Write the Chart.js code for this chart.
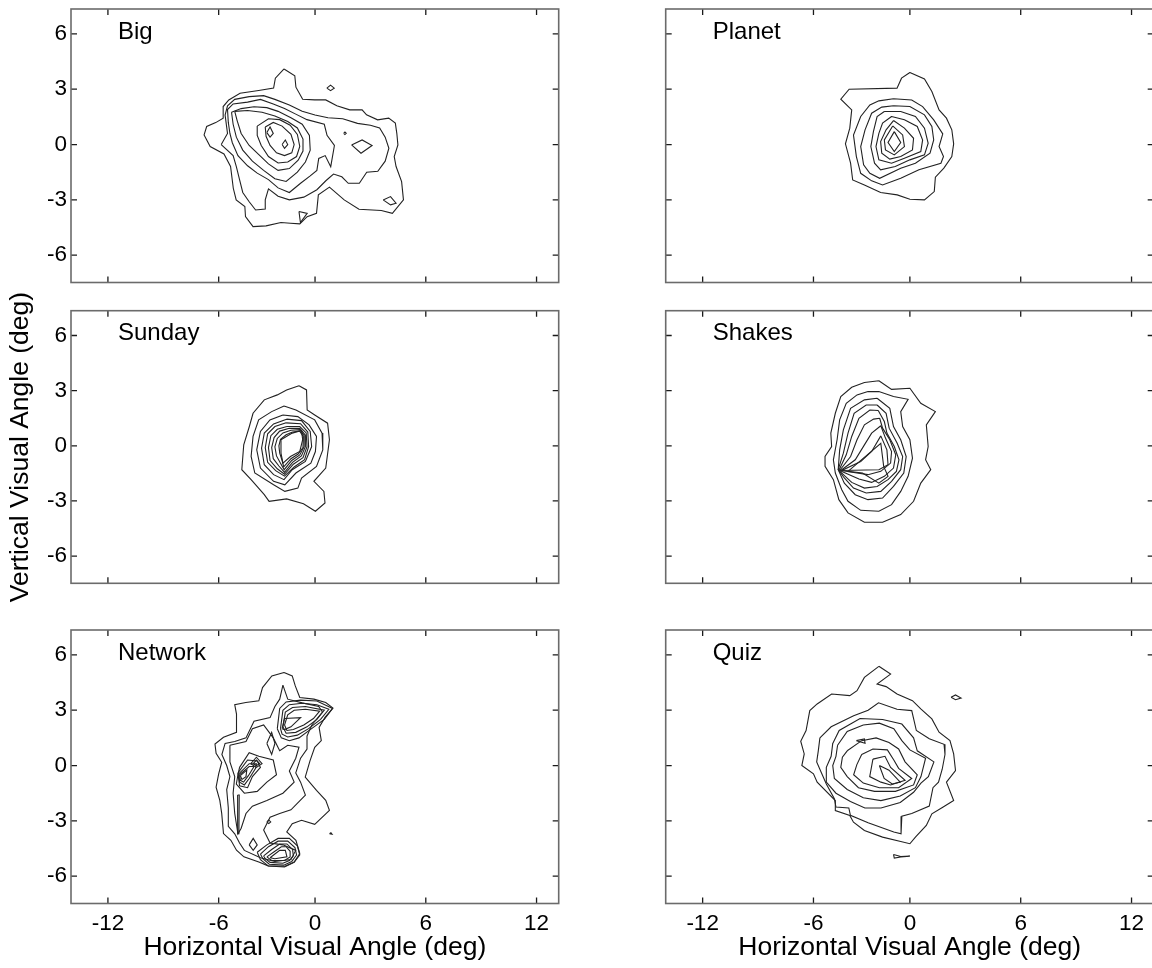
<!DOCTYPE html>
<html>
<head>
<meta charset="utf-8">
<script src="https://cdn.jsdelivr.net/npm/chart.js@4.4.1/dist/chart.umd.min.js"></script>
<style>
  html, body { margin: 0; padding: 0; background: #fff; }
  #fig { position: relative; width: 1152px; height: 968px; overflow: hidden; background: #fff; }
  #fig canvas { position: absolute; }
</style>
</head>
<body>
<div id="fig"></div>
<script>
// ---- axis values ----
const xTickValues = [-12, -6, 0, 6, 12];
const yTickValues = [-6, -3, 0, 3, 6];
const panelNames = ['Big', 'Planet', 'Sunday', 'Shakes', 'Network', 'Quiz'];
const xAxisTitle = 'Horizontal Visual Angle (deg)';
const yAxisTitle = 'Vertical Visual Angle (deg)';

// ---- contour loops, one array of [x, y] vertices per iso-line (deg) ----
const bigLoops = [
  [[-1.93,4.10],[-1.26,3.73],[-1.19,3.11],[-0.77,2.46],[-0.02,2.42],[0.58,2.42],[1.18,2.10],[1.88,1.88],[2.55,1.88],[2.79,1.61],[3.39,1.34],[3.99,1.43],[4.35,1.16],[4.43,0.61],[4.49,-0.02],[4.29,-0.65],[4.39,-1.19],[4.69,-2.01],[4.79,-3.0],[4.19,-3.73],[3.59,-3.58],[2.38,-3.51],[1.58,-3.0],[0.78,-2.31],[0.18,-2.73],[0.08,-3.73],[-0.49,-3.91],[-0.95,-4.30],[-1.53,-4.27],[-2.12,-4.23],[-3.05,-4.41],[-3.86,-4.45],[-4.33,-3.91],[-4.37,-3.36],[-4.91,-3.0],[-5.09,-2.37],[-5.26,-1.19],[-5.67,-0.51],[-6.46,-0.11],[-6.79,0.52],[-6.65,0.98],[-6.16,1.19],[-5.72,1.43],[-5.72,2.06],[-5.37,2.42],[-4.67,2.78],[-3.51,2.93],[-2.58,3.06],[-2.47,3.60]],
  [[-5.84,0.0],[-5.45,0.6],[-5.6,1.6],[-5.45,2.1],[-5.0,2.45],[-4.1,2.6],[-3.2,2.65],[-2.5,2.45],[-1.6,2.15],[-0.8,1.8],[0.0,1.6],[0.7,1.45],[1.5,1.4],[2.3,1.15],[3.0,1.05],[3.5,0.9],[3.8,0.4],[4.0,-0.2],[3.8,-0.9],[3.4,-1.45],[2.8,-1.5],[2.4,-2.1],[1.8,-2.1],[1.45,-1.75],[1.0,-1.6],[0.6,-1.95],[0.1,-2.45],[-0.7,-2.85],[-1.6,-3.0],[-2.3,-2.8],[-2.9,-2.4],[-3.1,-3.0],[-3.1,-3.5],[-3.7,-3.55],[-4.1,-3.1],[-4.5,-2.6],[-4.7,-1.9],[-4.9,-1.2],[-5.1,-0.6]],
  [[-5.4,1.2],[-5.45,1.9],[-5.1,2.2],[-4.2,2.3],[-3.4,2.45],[-2.6,2.2],[-1.9,1.95],[-1.2,1.65],[-0.5,1.35],[0.5,1.1],[0.65,0.5],[1.05,-0.05],[0.85,-1.2],[0.55,-0.6],[0.2,-0.75],[0.1,-1.4],[-0.3,-1.7],[-0.9,-2.1],[-1.6,-2.6],[-2.3,-2.35],[-2.9,-1.9],[-3.6,-1.55],[-4.2,-1.15],[-4.8,-0.6],[-5.15,0.1],[-5.3,0.6]],
  [[-5.2,1.75],[-4.6,1.95],[-3.8,2.05],[-3.0,2.0],[-2.3,1.8],[-1.5,1.45],[-0.8,1.1],[-0.35,0.5],[-0.3,-0.3],[-0.6,-0.95],[-1.1,-1.5],[-1.8,-2.0],[-2.5,-1.85],[-3.2,-1.4],[-3.9,-0.9],[-4.5,-0.3],[-4.9,0.4],[-5.1,1.1]],
  [[-5.0,1.8],[-4.2,1.85],[-3.3,1.75],[-2.5,1.55],[-1.7,1.25],[-1.1,0.9],[-0.75,0.3],[-0.75,-0.35],[-1.05,-0.85],[-1.6,-1.3],[-2.3,-1.4],[-2.9,-1.05],[-3.5,-0.55],[-4.1,-0.05],[-4.6,0.6],[-4.85,1.3]],
  [[-3.6,1.0],[-2.9,1.4],[-2.2,1.35],[-1.55,1.05],[-1.1,0.55],[-0.95,-0.1],[-1.15,-0.65],[-1.7,-0.95],[-2.3,-1.0],[-2.9,-0.65],[-3.35,-0.05],[-3.6,0.5]],
  [[-3.1,0.95],[-2.6,1.2],[-2.05,1.0],[-1.5,0.55],[-1.3,0.0],[-1.45,-0.45],[-1.9,-0.6],[-2.4,-0.45],[-2.8,-0.05],[-3.05,0.45]],
  [[-3.0,0.65],[-2.8,0.95],[-2.6,0.6],[-2.8,0.4]],
  [[-2.05,0.0],[-1.85,0.25],[-1.7,0.0],[-1.9,-0.2]],
  [[0.64,3.06],[0.84,3.22],[1.04,3.06],[0.84,2.92]],
  [[1.98,-0.02],[2.55,0.25],[3.09,-0.05],[2.49,-0.47]],
  [[1.55,0.61],[1.62,0.68],[1.69,0.61],[1.62,0.54]],
  [[3.69,-3.0],[4.09,-2.82],[4.39,-3.18],[4.09,-3.27]],
  [[-1.0,-3.63],[-0.49,-3.73],[-0.91,-4.23]]
];

const planetLoops = [
  [[0,3.91],[0.79,3.56],[1.19,2.88],[1.58,1.88],[1.98,1.43],[2.27,0.80],[2.37,0.04],[2.27,-0.65],[1.84,-1.28],[1.38,-1.77],[1.32,-2.55],[0.79,-3.0],[0,-2.97],[-0.79,-2.73],[-1.82,-2.60],[-2.83,-2.19],[-3.56,-1.92],[-3.69,-1.01],[-4.01,0.04],[-3.74,0.89],[-3.62,1.88],[-4.30,2.46],[-3.78,3.0],[-0.80,3.06],[-0.52,3.60]],
  [[-1.02,2.48],[0.1,2.42],[0.69,2.06],[1.29,1.34],[1.78,0.58],[1.58,-0.11],[1.82,-0.65],[1.68,-1.01],[0.49,-1.37],[-0.57,-1.83],[-1.70,-2.19],[-2.38,-1.97],[-3.06,-1.56],[-3.33,-0.65],[-3.51,0.52],[-3.06,1.52],[-2.49,2.15],[-1.93,2.37]],
  [[-1.02,2.10],[0,2.06],[0.79,1.61],[1.19,0.98],[1.29,0.25],[1.09,-0.47],[0.30,-1.01],[-0.57,-1.28],[-1.88,-1.83],[-2.49,-1.56],[-2.88,-1.10],[-3.06,-0.11],[-2.79,0.80],[-2.38,1.70],[-1.75,2.03]],
  [[-1.59,1.79],[-0.57,1.79],[0.3,1.52],[0.79,0.89],[0.99,0.07],[0.79,-0.56],[0,-0.83],[-0.91,-1.19],[-1.82,-1.37],[-2.20,-1.01],[-2.43,-0.11],[-2.27,0.70],[-2.04,1.52]],
  [[-1.14,1.52],[-0.34,1.34],[0.40,0.98],[0.69,0.25],[0.59,-0.38],[-0.34,-0.74],[-1.14,-1.01],[-1.93,-0.83],[-2.11,-0.11],[-1.93,0.61],[-1.70,1.16]],
  [[-1.02,1.30],[-0.34,0.89],[0.20,0.34],[0.14,-0.29],[-0.57,-0.65],[-1.25,-0.79],[-1.75,-0.47],[-1.82,0.16],[-1.48,0.80]],
  [[-1.07,1.01],[-0.45,0.52],[-0.34,-0.11],[-0.97,-0.56],[-1.52,-0.29],[-1.59,0.25]],
  [[-0.97,0.70],[-0.57,0.11],[-0.97,-0.38],[-1.36,0.11]]
];

const sundayLoops = [
  [[-1.0,3.27],[-0.53,3.04],[-0.49,1.95],[-0.02,1.68],[0.68,1.23],[0.78,0.33],[0.58,-1.21],[-0.07,-1.93],[0.48,-2.48],[0.54,-3.11],[0.02,-3.56],[-0.72,-3.15],[-1.77,-2.89],[-2.86,-3.02],[-3.16,-2.66],[-3.98,-1.84],[-4.56,-1.30],[-4.44,0.05],[-4.09,1.05],[-3.86,1.77],[-3.16,2.50],[-2.35,2.77],[-1.77,3.04]],
  [[-1.93,2.17],[-1.19,1.95],[-0.02,1.41],[0.38,0.69],[0.42,-0.22],[0.08,-1.12],[-0.84,-1.75],[-1.07,-2.30],[-1.88,-2.48],[-2.58,-2.12],[-3.75,-1.48],[-3.98,-0.58],[-3.86,0.51],[-3.51,1.41],[-2.70,1.86]],
  [[-2.0,1.68],[-1.07,1.59],[-0.37,1.14],[0.08,0.51],[0.02,-0.31],[-0.26,-0.94],[-1.19,-1.48],[-1.88,-2.12],[-2.58,-1.93],[-3.40,-1.21],[-3.63,-0.22],[-3.40,0.78],[-2.81,1.41]],
  [[-1.77,1.45],[-0.84,1.37],[-0.30,0.78],[-0.21,-0.04],[-0.60,-0.85],[-1.42,-1.30],[-1.93,-1.84],[-2.58,-1.57],[-3.16,-1.03],[-3.33,-0.13],[-3.16,0.69],[-2.58,1.19]],
  [[-1.8,1.25],[-0.9,1.2],[-0.45,0.75],[-0.4,-0.05],[-0.65,-0.75],[-1.3,-1.15],[-1.9,-1.65],[-2.45,-1.35],[-2.95,-0.9],[-3.1,-0.1],[-2.95,0.65],[-2.5,1.05]],
  [[-1.75,1.05],[-0.95,1.05],[-0.55,0.7],[-0.5,-0.05],[-0.75,-0.65],[-1.35,-1.0],[-1.9,-1.55],[-2.35,-1.25],[-2.8,-0.8],[-2.9,-0.1],[-2.75,0.55],[-2.35,0.9]],
  [[-1.6,0.95],[-0.95,0.95],[-0.62,0.6],[-0.6,-0.05],[-0.85,-0.55],[-1.4,-0.9],[-1.9,-1.45],[-2.25,-1.1],[-2.6,-0.7],[-2.7,-0.1],[-2.55,0.45],[-2.2,0.8]],
  [[-1.5,0.85],[-0.95,0.88],[-0.68,0.55],[-0.68,-0.05],[-0.95,-0.5],[-1.45,-0.8],[-1.92,-1.3],[-2.15,-0.95],[-2.4,-0.55],[-2.5,-0.05],[-2.35,0.4],[-2.0,0.7]],
  [[-1.4,0.75],[-0.95,0.8],[-0.73,0.5],[-0.75,-0.1],[-1.05,-0.45],[-1.5,-0.7],[-1.95,-1.15],[-2.05,-0.8],[-2.2,-0.4],[-2.25,0.0],[-2.15,0.35],[-1.8,0.6]],
  [[-2.12,0.33],[-1.42,0.69],[-0.84,0.83],[-0.77,0.33],[-0.95,-0.31],[-1.53,-0.58],[-2.0,-0.94],[-2.12,-0.40]]
];

const shakesLoops = [
  [[-1.93,3.54],[-1.14,3.07],[0,3.13],[0.59,2.31],[1.38,1.86],[0.89,1.14],[0.99,-0.04],[0.85,-0.76],[1.13,-1.30],[0.59,-2.03],[0.20,-3.02],[-0.57,-3.74],[-1.70,-4.16],[-2.83,-4.16],[-3.85,-3.65],[-4.42,-2.93],[-4.76,-1.84],[-5.28,-1.12],[-5.28,-0.58],[-4.87,-0.04],[-4.92,0.69],[-4.64,1.77],[-4.30,2.68],[-3.62,3.18],[-2.83,3.44]],
  [[-2.61,2.95],[-1.93,2.95],[-1.02,2.68],[-0.11,2.53],[-0.57,1.86],[-0.45,1.05],[0,0.33],[0.14,-0.67],[-0.11,-1.66],[-0.57,-2.48],[-1.14,-3.20],[-1.93,-3.56],[-3.06,-3.51],[-3.85,-3.02],[-4.24,-2.39],[-4.64,-1.48],[-4.76,-0.76],[-4.53,0.33],[-4.37,1.41],[-3.96,2.31],[-3.29,2.77]],
  [[-2.04,2.59],[-1.25,2.04],[-1.02,1.05],[-0.57,0.33],[-0.23,-0.58],[-0.38,-1.48],[-1.02,-2.21],[-1.70,-2.84],[-2.61,-2.93],[-3.40,-2.66],[-4.08,-2.03],[-4.46,-1.30],[-4.37,-0.22],[-4.14,0.87],[-3.69,2.04],[-2.83,2.50]],
  [[-2.04,2.22],[-1.48,1.77],[-1.29,0.96],[-0.79,0.14],[-0.45,-0.58],[-0.57,-1.30],[-1.14,-1.93],[-1.81,-2.48],[-2.72,-2.57],[-3.51,-2.30],[-4.08,-1.75],[-4.46,-1.30],[-4.14,-0.40],[-3.85,0.69],[-3.47,1.77],[-2.72,2.22]],
  [[-1.97,1.92],[-1.59,1.32],[-1.43,0.69],[-0.97,-0.04],[-0.68,-0.76],[-0.84,-1.39],[-1.36,-1.84],[-2.04,-2.21],[-2.83,-2.30],[-3.62,-1.99],[-4.42,-1.34],[-3.96,-0.49],[-3.62,0.51],[-3.17,1.50],[-2.49,1.95]],
  [[-1.88,1.50],[-1.70,0.96],[-1.25,0.33],[-0.88,-0.49],[-1.02,-1.21],[-1.59,-1.66],[-2.38,-1.99],[-3.17,-1.81],[-4.37,-1.34],[-3.69,-0.58],[-3.29,0.33],[-2.83,1.14],[-2.26,1.45]],
  [[-1.81,1.09],[-1.52,0.42],[-1.14,-0.31],[-1.20,-0.94],[-1.81,-1.39],[-2.61,-1.57],[-4.30,-1.34],[-3.40,-0.76],[-2.83,0.05],[-2.38,0.69]],
  [[-1.81,0.54],[-1.43,-0.22],[-1.36,-1.03],[-1.93,-1.30],[-4.24,-1.34],[-3.06,-0.85],[-2.38,-0.31]],
  [[-3.85,-1.39],[-1.81,0.14],[-1.63,-1.12],[-1.36,-1.66],[-1.93,-2.03],[-2.95,-1.48]]
];

const networkLoops = [
  [[-1.93,5.05],[-1.42,4.86],[-1.23,4.32],[-0.95,3.69],[-0.07,3.60],[0.58,3.42],[0.97,3.12],[0.54,2.61],[0.22,2.07],[0.34,1.35],[-0.02,0.99],[-0.31,0.27],[-0.61,-0.63],[0.08,-1.35],[0.58,-1.89],[0.78,-2.43],[-0.02,-3.19],[-0.84,-2.97],[-1.42,-3.15],[-1.76,-3.60],[-1.19,-4.05],[-0.95,-4.77],[-1.30,-5.23],[-1.88,-5.46],[-2.92,-5.44],[-3.50,-5.23],[-4.43,-4.95],[-4.89,-4.59],[-5.24,-4.05],[-5.70,-3.69],[-5.81,-2.61],[-5.93,-1.89],[-6.14,-1.17],[-6.0,-0.45],[-5.81,0.18],[-6.14,0.67],[-6.20,1.17],[-5.70,1.53],[-4.89,1.80],[-4.89,2.79],[-5.0,3.30],[-4.31,3.42],[-3.50,3.51],[-3.27,4.23],[-2.69,4.86]],
  [[-2.0,4.36],[-1.7,3.6],[-0.8,3.4],[0.2,3.2],[0.4,2.9],[-0.2,2.2],[-0.5,1.6],[-0.5,0.9],[-0.9,0.4],[-1.2,-0.4],[-0.9,-0.9],[-0.6,-1.6],[-1.5,-2.4],[-2.2,-2.6],[-2.8,-2.8],[-3.2,-3.5],[-2.8,-4.2],[-2.0,-4.3],[-1.2,-4.6],[-1.5,-5.1],[-2.5,-5.2],[-3.4,-5.0],[-4.4,-4.6],[-4.7,-4.2],[-5.0,-3.7],[-5.4,-3.3],[-5.4,-2.3],[-5.5,-1.3],[-5.3,-0.6],[-5.5,0.0],[-5.8,0.6],[-5.6,1.2],[-5.0,1.3],[-4.3,1.5],[-3.8,2.4],[-2.8,2.6],[-2.5,3.2],[-2.2,3.6]],
  [[-5.3,1.1],[-4.3,1.3],[-3.9,2.0],[-3.2,2.2],[-2.6,1.5],[-2.2,0.8],[-1.7,1.1],[-1.0,1.0],[-1.2,0.4],[-1.6,-0.3],[-1.3,-0.9],[-2.0,-1.5],[-3.0,-1.9],[-3.9,-2.2],[-4.3,-2.6],[-4.6,-3.4],[-4.8,-3.7],[-5.0,-2.6],[-5.1,-1.5],[-5.0,-0.6],[-5.3,0.2]],
  [[-4.7,-0.1],[-4.1,0.7],[-3.5,0.5],[-2.6,0.3],[-2.4,-0.5],[-3.0,-0.9],[-3.6,-1.4],[-4.4,-1.5],[-4.9,-1.0],[-4.8,-0.5]],
  [[-4.8,-0.4],[-4.2,0.3],[-3.6,0.25],[-3.4,-0.1],[-3.9,-0.6],[-4.2,-1.2],[-4.7,-1.1]],
  [[-4.75,-0.45],[-4.1,0.1],[-3.65,0.1],[-3.7,-0.15],[-4.1,-0.7],[-4.4,-1.05],[-4.7,-0.9]],
  [[-4.7,-0.5],[-4.1,-0.05],[-3.8,-0.05],[-4.15,-0.55],[-4.45,-0.9],[-4.65,-0.8]],
  [[-4.65,-0.55],[-4.25,-0.25],[-4.3,-0.6],[-4.55,-0.75]],
  [[-4.0,0.1],[-3.65,0.45],[-3.3,0.1],[-3.65,-0.1]],
  [[-3.85,0.1],[-3.65,0.3],[-3.45,0.1],[-3.65,0.0]],
  [[-4.82,-1.6],[-4.72,-1.6],[-4.74,-3.7],[-4.8,-3.7]],
  [[-3.0,1.2],[-2.7,1.8],[-2.5,1.2],[-2.7,0.6]],
  [[-2.35,2.0],[-2.2,3.1],[-1.8,3.45],[-0.9,3.55],[0.1,3.5],[0.95,3.1],[0.5,2.5],[-0.3,1.95],[-1.0,1.5],[-1.6,1.35],[-2.1,1.5]],
  [[-2.15,2.0],[-2.0,3.0],[-1.6,3.3],[-0.8,3.38],[0.1,3.3],[0.75,3.05],[0.3,2.5],[-0.4,2.0],[-1.1,1.65],[-1.7,1.55],[-2.05,1.7]],
  [[-2.0,2.1],[-1.85,2.9],[-1.4,3.15],[-0.6,3.2],[0.5,3.0],[0.1,2.5],[-0.5,2.1],[-1.2,1.8],[-1.8,1.75]],
  [[-1.9,2.2],[-1.7,2.75],[-1.3,3.0],[-0.6,3.05],[0.25,2.95],[-0.1,2.55],[-0.7,2.2],[-1.35,1.95],[-1.75,1.9]],
  [[-2.05,2.0],[-1.9,2.55],[-0.9,2.6],[-1.5,2.1],[-1.9,1.95]],
  [[-3.6,-4.7],[-3.0,-4.3],[-2.3,-3.95],[-1.6,-3.95],[-1.1,-4.35],[-0.95,-4.85],[-1.3,-5.25],[-1.9,-5.5],[-2.9,-5.45],[-3.4,-5.1]],
  [[-3.4,-4.8],[-2.9,-4.4],[-2.3,-4.1],[-1.7,-4.1],[-1.25,-4.45],[-1.15,-4.85],[-1.45,-5.2],[-1.95,-5.4],[-2.85,-5.35],[-3.25,-5.05]],
  [[-3.2,-4.9],[-2.7,-4.55],[-2.2,-4.25],[-1.75,-4.25],[-1.4,-4.55],[-1.35,-4.9],[-1.6,-5.15],[-2.0,-5.3],[-2.8,-5.25],[-3.1,-5.05]],
  [[-3.0,-4.95],[-2.5,-4.65],[-2.1,-4.4],[-1.8,-4.4],[-1.55,-4.65],[-1.55,-4.95],[-1.9,-5.15],[-2.7,-5.15]],
  [[-2.8,-5.0],[-2.2,-4.6],[-1.85,-4.6],[-1.75,-4.95],[-2.5,-5.05]],
  [[-4.1,-4.3],[-3.85,-3.95],[-3.6,-4.3],[-3.85,-4.6]],
  [[-3.0,-3.06],[-2.88,-2.95],[-2.76,-3.06],[-2.88,-3.15]],
  [[0.78,-3.69],[0.86,-3.64],[0.92,-3.72]]
];

const quizLoops = [
  [[-1.93,5.38],[-1.20,4.96],[-2.04,4.42],[-1.48,4.28],[-0.80,3.88],[0.14,3.52],[0.59,3.07],[1.19,2.53],[1.58,1.81],[2.17,1.35],[2.37,0.63],[2.47,-0.27],[1.98,-0.90],[2.37,-1.90],[1.78,-2.26],[1.19,-2.62],[0.89,-3.25],[0.30,-3.88],[0,-4.24],[-0.57,-4.12],[-1.70,-3.88],[-2.83,-3.52],[-3.51,-3.07],[-3.74,-2.71],[-4.64,-2.44],[-4.64,-1.90],[-5.77,-0.90],[-6.0,-0.45],[-6.63,0],[-6.50,0.63],[-6.69,1.32],[-6.40,1.90],[-6.20,2.98],[-5.77,3.34],[-4.87,3.88],[-3.74,3.79],[-3.29,4.06],[-2.83,4.78]],
  [[-5.6,1.5],[-4.9,2.1],[-3.5,2.7],[-2.6,3.0],[-1.95,3.4],[-0.8,3.05],[0.1,2.98],[0.35,1.9],[1.05,1.45],[1.85,1.15],[1.9,0.6],[1.75,-0.2],[1.55,-0.9],[1.25,-1.2],[1.05,-2.2],[0.1,-2.6],[-0.5,-2.75],[-0.55,-3.7],[-1.0,-3.6],[-2.6,-3.1],[-3.7,-2.7],[-3.8,-2.3],[-4.6,-2.25],[-4.7,-1.8],[-5.2,-1.0],[-5.5,-0.4],[-5.8,0.2],[-5.7,0.8]],
  [[-4.8,1.2],[-4.4,1.9],[-3.1,2.55],[-1.7,2.5],[-0.5,2.25],[0.2,1.5],[0.4,0.8],[1.3,0.2],[1.0,-0.6],[0.6,-0.95],[0.2,-1.45],[-0.6,-2.0],[-1.8,-2.3],[-2.8,-2.3],[-3.7,-1.95],[-4.6,-1.5],[-5.2,-0.9],[-5.2,-0.1],[-4.9,0.5]],
  [[-4.5,1.1],[-3.9,1.85],[-2.9,2.2],[-1.9,2.3],[-1.0,2.0],[-0.5,1.35],[0.0,0.85],[0.85,0.4],[0.6,-0.6],[0.3,-1.2],[-0.6,-1.65],[-1.8,-1.9],[-2.9,-1.75],[-3.9,-1.3],[-4.7,-0.7],[-4.8,0.0],[-4.6,0.5]],
  [[-3.9,0.8],[-3.0,1.35],[-2.1,1.5],[-1.3,1.25],[-0.7,0.9],[-0.3,0.2],[0.4,-0.5],[0.2,-1.05],[-0.9,-1.4],[-2.2,-1.4],[-3.2,-1.2],[-3.9,-0.6],[-4.3,-0.1],[-4.2,0.45]],
  [[-3.0,0.6],[-2.3,0.9],[-1.4,0.85],[-1.0,0.3],[-0.7,-0.15],[0.1,-0.7],[-0.7,-1.2],[-1.9,-1.2],[-2.9,-0.95],[-3.5,-0.5],[-3.3,0.05]],
  [[-2.3,0.35],[-1.55,0.5],[-1.2,-0.1],[-0.3,-0.8],[-1.2,-1.05],[-1.8,-0.9],[-2.5,-0.6]],
  [[-1.9,0.0],[-1.3,-0.25],[-0.6,-0.9],[-1.1,-1.0],[-1.6,-0.7]],
  [[2.23,3.70],[2.47,3.83],[2.77,3.66],[2.47,3.57]],
  [[-1.02,-4.82],[-0.57,-4.93],[0,-4.91],[-0.57,-4.96],[-0.97,-5.02]],
  [[-3.33,1.35],[-2.83,1.44],[-2.79,1.21]]
];

const loopsByPanel = [bigLoops, planetLoops, sundayLoops, shakesLoops, networkLoops, quizLoops];

// ---- horizontal axis: the span between -6 and 0 is drawn narrower than the rest ----
const BEND = 0.78;
function warp(v) { if (v >= 0) return v; if (v > -6) return v * (1 - BEND / 6); return v + BEND; }
function unwarp(w) { if (w >= 0) return w; if (w > -6 + BEND) return w / (1 - BEND / 6); return w - BEND; }

class BentLinearScale extends Chart.LinearScale {
  getPixelForValue(value) {
    const a = warp(this.min), b = warp(this.max);
    return this.getPixelForDecimal((warp(value) - a) / (b - a));
  }
  getValueForPixel(pixel) {
    const a = warp(this.min), b = warp(this.max);
    return unwarp(a + this.getDecimalForPixel(pixel) * (b - a));
  }
}
BentLinearScale.id = 'bentLinear';
BentLinearScale.defaults = { ticks: { callback: Chart.Ticks.formatters.numeric } };
Chart.register(BentLinearScale);

Chart.defaults.font.family = '"Liberation Sans", Arial, Helvetica, sans-serif';
Chart.defaults.color = '#000';

// frame, inward tick marks and the panel name
const panelFrame = {
  id: 'panelFrame',
  afterDatasetsDraw(chart, args, opts) {
    const { ctx, chartArea: a, scales: { x, y } } = chart;
    ctx.save();
    ctx.strokeStyle = '#1a1a1a';
    ctx.lineWidth = 1.3;
    ctx.beginPath();
    x.ticks.forEach(t => {
      const p = x.getPixelForValue(t.value);
      ctx.moveTo(p, a.bottom); ctx.lineTo(p, a.bottom - 6);
      ctx.moveTo(p, a.top); ctx.lineTo(p, a.top + 6);
    });
    y.ticks.forEach(t => {
      const p = y.getPixelForValue(t.value);
      ctx.moveTo(a.left, p); ctx.lineTo(a.left + 6, p);
      ctx.moveTo(a.right, p); ctx.lineTo(a.right - 6, p);
    });
    ctx.stroke();
    ctx.strokeStyle = '#6b6b6b';
    ctx.lineWidth = 1.6;
    ctx.strokeRect(a.left, a.top, a.right - a.left, a.bottom - a.top);
    ctx.fillStyle = '#000';
    ctx.font = '24px "Liberation Sans", Arial, sans-serif';
    ctx.textAlign = 'left';
    ctx.textBaseline = 'alphabetic';
    ctx.fillText(opts.name, a.left + 47, a.top + 29.5);
    ctx.restore();
  }
};

const fig = document.getElementById('fig');
const cols = [
  { left: 0, width: 580, yW: 71, padRight: 21.3 },
  { left: 600, width: 560, yW: 65.7, padRight: 6.3 }
];
const rows = [
  { top: 0, height: 293, padTop: 9, xH: 10.5 },
  { top: 280, height: 330, padTop: 30.7, xH: 26.7 },
  { top: 620, height: 348, padTop: 10, xH: 64.5 }
];

function closeLoop(pts) {
  return pts.concat([pts[0]]).map(p => ({ x: p[0], y: p[1] }));
}

panelNames.forEach((name, i) => {
  const c = cols[i % 2], r = rows[Math.floor(i / 2)];
  const isBottom = r === rows[2];
  const isLeft = c === cols[0];
  const showYTitle = i === 2;
  const cv = document.createElement('canvas');
  cv.width = c.width; cv.height = r.height;
  cv.style.left = c.left + 'px'; cv.style.top = r.top + 'px';
  cv.style.width = c.width + 'px'; cv.style.height = r.height + 'px';
  fig.appendChild(cv);

  new Chart(cv, {
    type: 'scatter',
    data: {
      datasets: loopsByPanel[i].map(loop => ({
        data: closeLoop(loop),
        showLine: true,
        borderColor: '#222',
        borderWidth: 1.1,
        pointRadius: 0,
        fill: false,
        tension: 0
      }))
    },
    options: {
      responsive: false,
      animation: false,
      events: [],
      layout: { padding: { top: r.padTop, right: c.padRight, left: 0, bottom: 0 } },
      plugins: { legend: { display: false }, tooltip: { enabled: false }, panelFrame: { name } },
      scales: {
        x: {
          type: 'bentLinear', min: -14, max: 13.2,
          afterBuildTicks: s => { s.ticks = xTickValues.map(v => ({ value: v })); },
          afterFit: s => { s.height = r.xH; s.paddingLeft = 0; s.paddingRight = 0; },
          grid: { display: false, drawTicks: false },
          border: { display: false },
          ticks: { display: isBottom, padding: 6.4, maxRotation: 0, autoSkip: false, font: { size: 22.5 }, color: '#000', callback: v => String(v) },
          title: { display: isBottom, text: xAxisTitle, font: { size: 26.5 }, color: '#000', padding: { top: 0, bottom: 4.5 } }
        },
        y: {
          type: 'linear', min: -7.48, max: 7.35,
          afterBuildTicks: s => { s.ticks = yTickValues.map(v => ({ value: v })); },
          afterFit: s => { s.width = c.yW; s.paddingTop = 0; s.paddingBottom = 0; },
          grid: { display: false, drawTicks: false },
          border: { display: false },
          ticks: { display: isLeft, padding: 4, autoSkip: false, font: { size: 22.5 }, color: '#000', callback: v => String(v) },
          title: { display: showYTitle, text: yAxisTitle, font: { size: 26.5 }, color: '#000', padding: { top: 4.5, bottom: 0 } }
        }
      }
    },
    plugins: [panelFrame]
  });
});
</script>
</body>
</html>
